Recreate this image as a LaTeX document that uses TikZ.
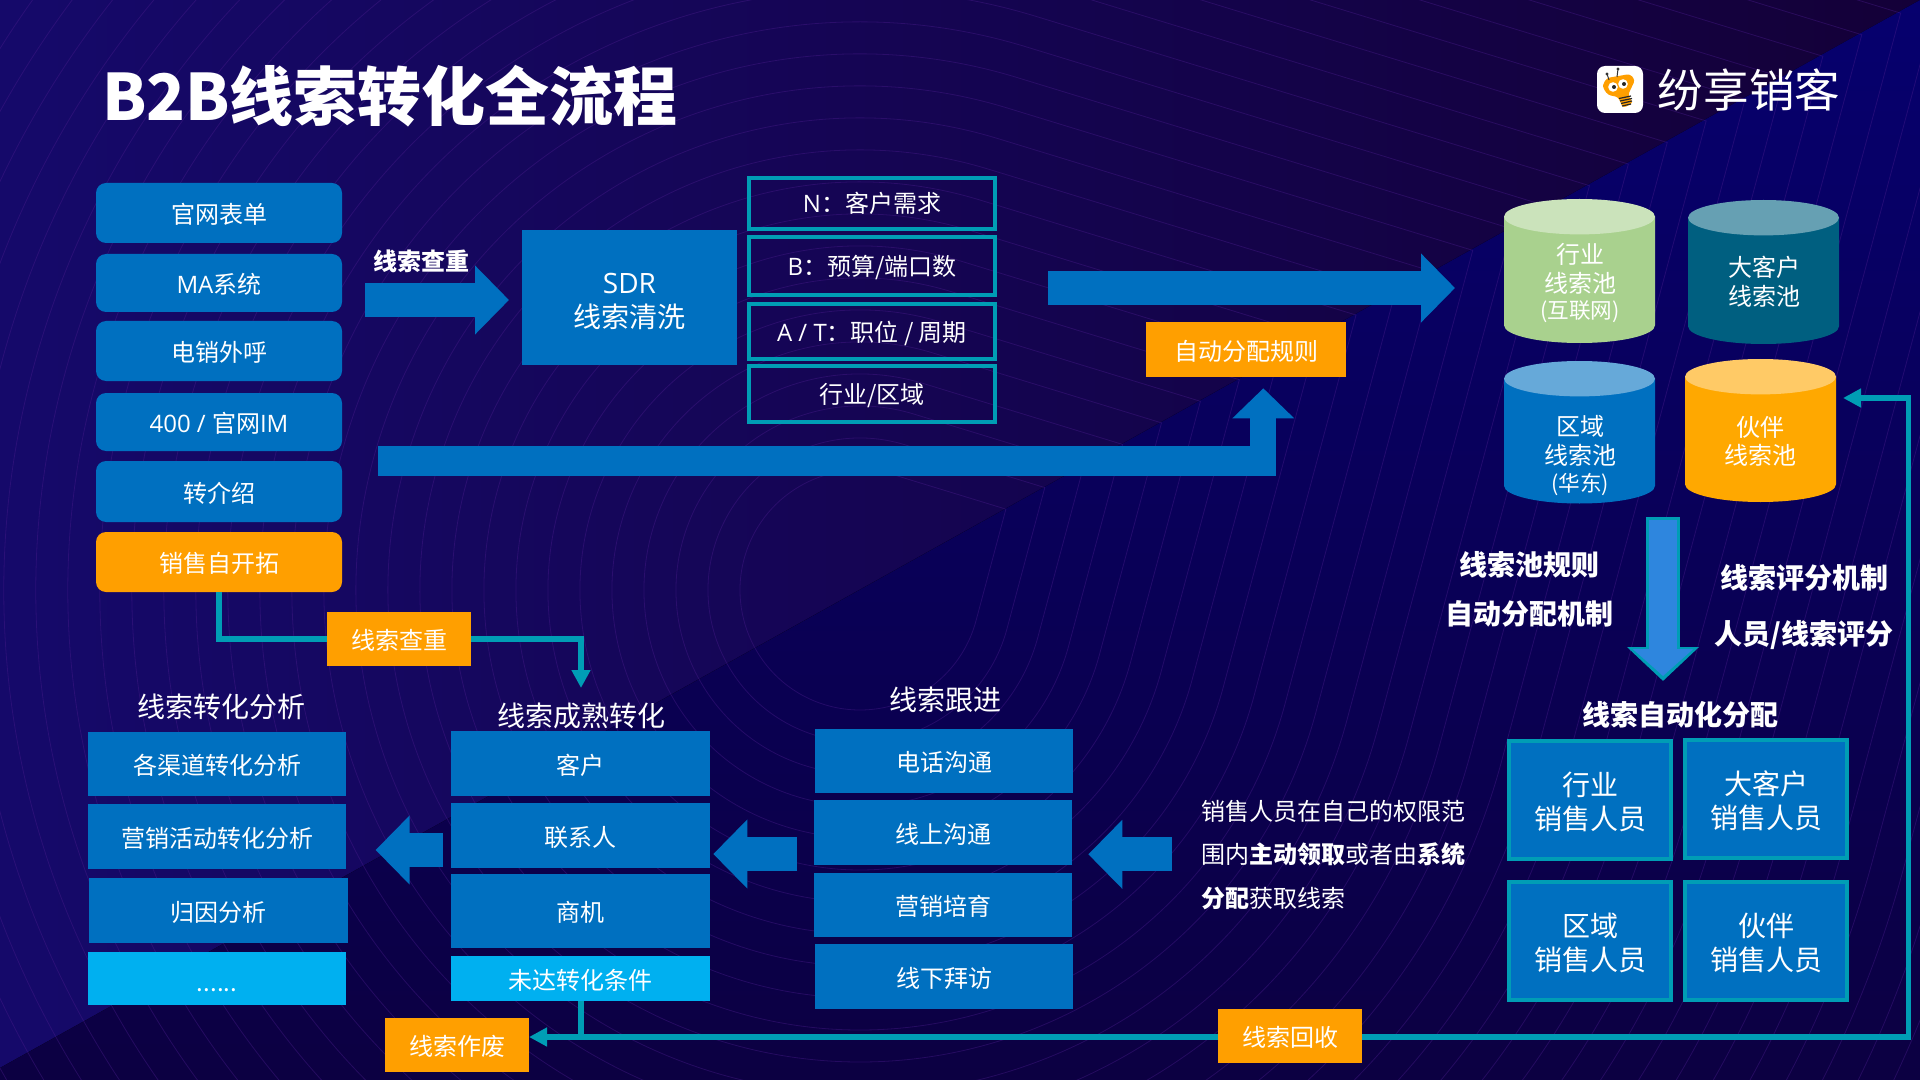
\documentclass[tikz,border=0pt]{standalone}
\usepackage{fontspec}
\setmainfont{Noto Sans CJK SC}
\newfontfamily\lat{Open Sans}
\usetikzlibrary{arrows.meta,shadings}
\definecolor{blu}{HTML}{0070C0}
\definecolor{teal2}{HTML}{009DB5}
\definecolor{org}{HTML}{FF9F00}
\definecolor{sky}{HTML}{00B0F0}
\definecolor{ring}{HTML}{4A1C8C}
\definecolor{bgl}{RGB}{21,9,106}
\definecolor{bgr}{RGB}{20,0,56}
\definecolor{bgt}{RGB}{6,0,110}
\definecolor{bgb}{RGB}{12,0,66}
\definecolor{cga}{RGB}{169,209,142}
\definecolor{cgb}{RGB}{203,227,187}
\definecolor{cta}{RGB}{0,95,128}
\definecolor{ctb}{RGB}{102,160,179}
\definecolor{cbb}{RGB}{102,169,217}
\definecolor{coa}{RGB}{255,168,0}
\definecolor{cob}{RGB}{255,202,102}
\definecolor{dnb}{RGB}{46,134,222}
\newcommand\fsz[2]{\fontsize{#1}{#2}\selectfont}
\newcommand\stt{\rule[-.1em]{0pt}{1.08em}}
\newcommand\sttb{\rule{0pt}{1.04em}}
\newcommand\sttc{\rule{0pt}{1.02em}}
% \bx{name}{style}{x1}{y1}{x2}{y2}{text}
\newcommand\bx[7]{%
  \pgfmathsetmacro\bxw{(#5-#3)*0.5}%
  \pgfmathsetmacro\bxh{(#6-#4)*0.5}%
  \pgfmathsetmacro\bxx{(#3+#5)/2}%
  \pgfmathsetmacro\bxy{(#4+#6)/2}%
  \node[#2,minimum width=\bxw pt,minimum height=\bxh pt] (#1) at (\bxx,\bxy) {#7};}
% \cyl{name}{x1}{ytop}{x2}{ybottom}{body}{top}
\newcommand\cyl[7]{%
  \pgfmathsetmacro\cx{(#2+#4)/2}%
  \pgfmathsetmacro\crx{(#4-#2)/2}%
  \pgfmathsetmacro\cya{#3+17.7}%
  \pgfmathsetmacro\cyb{#5-17.7}%
  \fill[#6] (#2,\cya) -- (#2,\cyb) arc[start angle=180,end angle=0,x radius=\crx,y radius=17.7] -- (#4,\cya) -- cycle;
  \fill[#7] (\cx,\cya) ellipse[x radius=\crx,y radius=17.7];
  \coordinate (#1) at (\cx,\cya);}
\tikzset{
  lifted/.style={execute at begin node=\stt,execute at end node=\stt},
  basebox/.style={inner sep=0pt,outer sep=0pt,align=center,text=white,font=\fsz{12}{14.5},lifted},
  src/.style={basebox,fill=blu,rounded corners=5pt},
  srcorg/.style={basebox,fill=org,rounded corners=5pt},
  flat/.style={basebox,fill=blu},
  flatsky/.style={basebox,fill=sky},
  tag/.style={basebox,fill=org},
  frame/.style={basebox,draw=teal2,line width=1.75pt},
  staff/.style={basebox,fill=blu,draw=teal2,line width=1.75pt,font=\fsz{14}{17}},
  head/.style={inner sep=0pt,outer sep=0pt,text=white,font=\fsz{14}{17},lifted},
  headb/.style={head,font=\fsz{14}{17}\bfseries,align=center},
  cyltext/.style={inner sep=0pt,outer sep=0pt,text=white,font=\fsz{12}{14.5},lifted},
  cylsmall/.style={inner sep=0pt,outer sep=0pt,text=white,font=\fsz{10.8}{12},lifted},
  link/.style={draw=teal2,line width=2.75pt},
  linkhead/.style={link,-{Triangle[length=9pt,width=9pt]}},
  bigarrow/.style={draw=blu,line width=17pt,-{Triangle[length=17pt,width=33.5pt]}},
}
\begin{document}
\begin{tikzpicture}[x=0.5pt,y=-0.5pt,line join=miter]
\useasboundingbox (0,0) rectangle (1920,1080);
% background
\fill[left color=bgl,right color=bgr] (0,0) rectangle (1920,1080);
\fill[top color=bgt,bottom color=bgb] (0,1068) -- (1920,0) -- (1920,1080) -- (0,1080) -- cycle;
\begin{scope}
\clip (0,0) rectangle (1920,1080);
\foreach \r in {120,152,...,1400}{
  \pgfmathsetmacro\cxx{860+1.39*\r*cos(29)}
  \pgfmathsetmacro\cyy{590-1.39*\r*sin(29)}
  \draw[ring,line width=0.4pt,opacity=.4] (860,590) ++(-73:\r) arc[start angle=-73,end angle=-345,radius=\r] -- (\cxx,\cyy) -- cycle;
}
\end{scope}
% title
\node[inner sep=0pt,outer sep=0pt,anchor=west,text=white,font=\fsz{32}{38}\bfseries] (title) at (102,96) {B2B线索转化全流程};
% logo
\fill[white,rounded corners=4pt] (1597,66) rectangle (1643,113);
\fill[org,rounded corners=1.5pt] (1603,84) -- (1607,78) -- (1630,74) -- (1635,80) -- (1628,95) -- (1633,103) -- (1623,108) -- (1618,97) -- (1608,95) -- (1603,88) -- cycle;
\draw[black!80,line width=.5pt] (1609,80) -- (1607,74) (1617,77) -- (1618,69);
\fill[black!80] (1607,74) circle[radius=1.6] (1618,69) circle[radius=1.6];
\fill[white] (1613,87) circle[radius=4.8] (1623,84) circle[radius=4.8];
\fill[black!85] (1614,87) circle[radius=2] (1624,84) circle[radius=2];
\draw[black!85,line width=.6pt] (1619,98.5) -- (1631,96) (1620,101) -- (1632,98.5) (1621,103.5) -- (1632,101) (1622,106) -- (1631,104);
\node[inner sep=0pt,outer sep=0pt,anchor=center,text=white,font=\fsz{22.8}{26}] (brand) at (1749,90) {纷享销客};
% source column
\bx{s1}{src}{96}{183}{342}{243}{官网表单}
\bx{s2}{src}{96}{254}{342}{312}{{\lat MA}系统}
\bx{s3}{src}{96}{321}{342}{381}{电销外呼}
\bx{s4}{src}{96}{393}{342}{451}{{\lat 400 / }官网{\lat IM}}
\bx{s5}{src}{96}{461}{342}{522}{转介绍}
\bx{s6}{srcorg}{96}{532}{342}{592}{销售自开拓}
% SDR
\node[inner sep=0pt,outer sep=0pt,text=white,font=\fsz{12}{14.5}\bfseries,lifted] (chk) at (421,260) {线索查重};
\coordinate (a1s) at (365,300); \coordinate (a1e) at (509,300);
\bx{sdr}{flat,font=\fsz{14}{17}}{522}{230}{737}{365}{\sttb{\lat SDR}\\线索清洗}
\draw[bigarrow] (a1s) -- (a1e);
\bx{n1}{frame}{749}{178}{995}{229}{\raisebox{1pt}{{\lat N}：客户需求}}
\bx{n2}{frame}{749}{237}{995}{295}{{\lat B}：预算/端口数}
\bx{n3}{frame}{749}{304}{995}{359}{{\lat A / T}：职位 / 周期}
\bx{n4}{frame}{749}{366}{995}{422}{行业/区域}
\coordinate (a2s) at (1048,288); \coordinate (a2e) at (1455,288);
\draw[bigarrow] (a2s) -- (a2e);
\bx{rule}{tag}{1146}{322}{1346}{377}{自动分配规则}
\coordinate (a3s) at (378,461); \coordinate (a3m) at (1276,461); \coordinate (a3b) at (1263.3,476); \coordinate (a3e) at (1263.3,388.3);
\draw[draw=blu,line width=15pt] (a3s) -- (a3m);
\draw[draw=blu,line width=13pt,-{Triangle[length=15pt,width=30pt]}] (a3b) -- (a3e);
% cylinders
\cyl{c1}{1504}{199}{1655}{343}{cga}{cgb}
\cyl{c2}{1688}{200}{1839}{344}{cta}{ctb}
\cyl{c3}{1504}{361}{1655}{503.5}{blu}{cbb}
\cyl{c4}{1685}{359}{1836}{502}{coa}{cob}
\node[cyltext] (c1a) at (1580,253) {行业};
\node[cyltext] (c1b) at (1580,282) {线索池};
\node[cylsmall] (c1c) at (1580,310) {(互联网)};
\node[cyltext] (c2a) at (1764,266) {大客户};
\node[cyltext] (c2b) at (1764,295) {线索池};
\node[cyltext] (c3a) at (1580,425) {区域};
\node[cyltext] (c3b) at (1580,454) {线索池};
\node[cylsmall] (c3c) at (1580,483) {(华东)};
\node[cyltext] (c4a) at (1760,426) {伙伴};
\node[cyltext] (c4b) at (1760,454) {线索池};
% down arrow
\coordinate (d1s) at (1663,517); \coordinate (d1e) at (1663,681);
\coordinate (d2s) at (1663,520); \coordinate (d2e) at (1663,676);
\draw[draw=teal2,line width=17pt,-{Triangle[length=17pt,width=35pt]}] (d1s) -- (d1e);
\draw[draw=dnb,line width=14pt,-{Triangle[length=13.5pt,width=29.5pt]}] (d2s) -- (d2e);
\node[headb] (r1) at (1529,563) {线索池规则};
\node[headb] (r2) at (1529,612) {自动分配机制};
\node[headb] (r3) at (1804,576) {线索评分机制};
\node[headb] (r4) at (1804,633) {人员/线索评分};
\node[headb] (r5) at (1680,713) {线索自动化分配};
% staff
\bx{p1}{staff}{1509}{741}{1671}{859}{\sttc 行业\\销售人员}
\bx{p2}{staff}{1685}{740}{1847}{858}{\sttc 大客户\\销售人员}
\bx{p3}{staff}{1509}{882}{1671}{1000}{\sttc 区域\\销售人员}
\bx{p4}{staff}{1685}{882}{1847}{1000}{\sttc 伙伴\\销售人员}
\node[inner sep=0pt,outer sep=0pt,anchor=west,align=left,text=white,font=\fsz{12}{21.75},lifted] (para) at (1201,855) {销售人员在自己的权限范\\围内\textbf{主动领取}或者由\textbf{系统}\\\textbf{分配}获取线索};
% follow-up
\node[head] (t3) at (945,698) {线索跟进};
\bx{f1}{flat}{815}{729}{1073}{793}{电话沟通}
\bx{f2}{flat}{814}{800}{1072}{865}{线上沟通}
\bx{f3}{flat}{814}{873}{1072}{937}{营销培育}
\bx{f4}{flat}{815}{944}{1073}{1009}{线下拜访}
% maturity
\node[head] (t2) at (581,714) {线索成熟转化};
\bx{m1}{flat}{451}{731}{710}{796}{客户}
\bx{m2}{flat}{451}{803}{710}{868}{联系人}
\bx{m3}{flat}{451}{874}{710}{948}{商机}
\bx{m4}{flatsky}{451}{956}{710}{1001}{未达转化条件}
% analysis
\node[head] (t1) at (221,705) {线索转化分析};
\bx{g1}{flat}{88}{732}{346}{796}{各渠道转化分析}
\bx{g2}{flat}{88}{804}{346}{869}{营销活动转化分析}
\bx{g3}{flat}{89}{878}{348}{943}{归因分析}
\bx{g4}{flatsky}{88}{952}{346}{1005}{\raisebox{-1pt}[0pt][0pt]{......}}
% left arrows
\coordinate (l1s) at (443,850); \coordinate (l1e) at (375.6,850);
\coordinate (l2s) at (797,854); \coordinate (l2e) at (713.3,854);
\coordinate (l3s) at (1172,854.3); \coordinate (l3e) at (1088.3,854.3);
\draw[bigarrow] (l1s) -- (l1e);
\draw[bigarrow] (l2s) -- (l2e);
\draw[bigarrow] (l3s) -- (l3e);
% teal connectors and tags
\bx{dup}{tag}{327}{612}{471}{666}{线索查重}
\coordinate (inm) at (581,688);
\draw[link] (s6.south) |- (dup.west);
\draw[linkhead] (dup.east) -| (inm);
\bx{waste}{tag}{385}{1018}{529}{1072}{线索作废}
\bx{back}{tag}{1218}{1009}{1362}{1063}{线索回收}
\coordinate (junc) at (581,1037);
\coordinate (corner) at (1908.7,1037);
\coordinate (rettip) at (1843,398);
\draw[link] (m4.south -| junc) -- (junc);
\draw[linkhead] (junc) -- (waste.east |- junc) ;
\draw[link] (junc) -- (back.west |- junc);
\draw[linkhead] (back.east |- corner) -- (corner) |- (rettip);
\end{tikzpicture}
\end{document}
